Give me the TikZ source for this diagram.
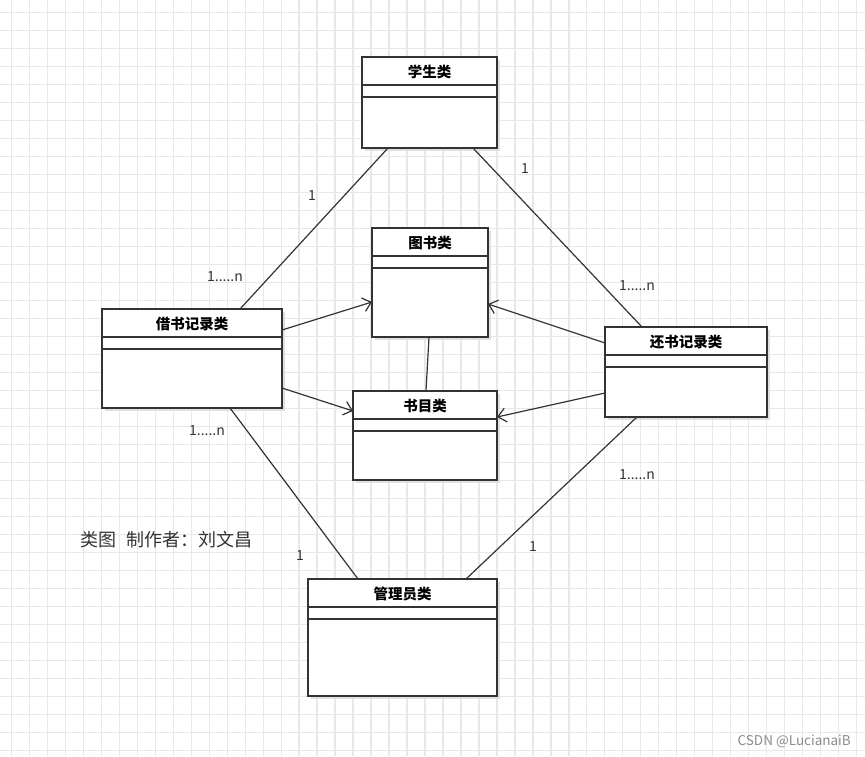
\documentclass[tikz,border=0pt]{standalone}
\usepackage{fontspec}
\setmainfont{Noto Sans CJK SC}
\usetikzlibrary{shadows,arrows.meta,calc}
\definecolor{gridc}{RGB}{232,232,232}
\definecolor{ink}{RGB}{51,51,51}
\tikzset{
  cls/.style={draw=ink, line width=1.3pt, fill=white, inner sep=0pt, outer sep=0pt, anchor=north west,
    drop shadow={shadow xshift=3pt, shadow yshift=-3pt, fill=black!12, opacity=1}},
  ttl/.style={font=\bfseries\fontsize{14.5}{16}\selectfont, text=black, inner sep=0pt},
  sepline/.style={draw=ink, line width=1.3pt},
  assoc/.style={draw=ink, line width=1.2pt},
  nav/.style={assoc, -{Straight Barb[length=8pt,width=14pt]}},
  mult/.style={font=\fontsize{14}{16}\selectfont, text=ink, inner sep=0pt},
  gridline/.style={draw=gridc, line width=1.5pt},
}
\newcommand\umlclass[6]{%
  \node[cls, minimum width=#4pt, minimum height=#5pt] (#1) at (#2,#3) {};
  \draw[sepline] ([yshift=-28pt]#1.north west) -- ([yshift=-28pt]#1.north east);
  \draw[sepline] ([yshift=-40pt]#1.north west) -- ([yshift=-40pt]#1.north east);
  \node[ttl] (#1-t) at ([yshift=-15pt]#1.north) {#6};}
\begin{document}
\begin{tikzpicture}[x=1pt,y=-1pt]
\useasboundingbox (0,0) rectangle (865,756);
\fill[white] (0,0) rectangle (865,756);
\foreach \i in {0,...,48} \draw[gridline] (11.7+17.97*\i,0) -- ++(0,756);
\foreach \j in {0,...,42} \draw[gridline] (0,12.7+18*\j) -- ++(865,0);

\umlclass{stu}{362}{57}{135}{91}{学生类}
\umlclass{tu}{372}{228}{116}{109}{图书类}
\umlclass{mu}{353}{391}{144}{89}{书目类}
\umlclass{jie}{102}{309}{180}{99}{借书记录类}
\umlclass{hai}{605}{327}{162}{90}{还书记录类}
\umlclass{guan}{308}{579}{189}{117}{管理员类}

\draw[assoc] ([xshift=26pt]stu.south west) -- ([xshift=138pt]jie.north west);
\draw[assoc] ([xshift=111pt]stu.south west) -- ([xshift=37pt]hai.north west);
\draw[nav] ([yshift=-21pt]jie.north east) -- ([yshift=-74pt]tu.north west);
\draw[nav] ([yshift=-79pt]jie.north east) -- ([yshift=-20pt]mu.north west);
\draw[nav] ([yshift=-16pt]hai.north west) -- ([yshift=-76pt]tu.north east);
\draw[nav] ([yshift=-66pt]hai.north west) -- ([yshift=-26pt]mu.north east);
\draw[assoc] ([xshift=57pt]tu.south west) -- ([xshift=73pt]mu.north west);
\draw[assoc] ([xshift=128pt]jie.south west) -- ([xshift=50pt]guan.north west);
\draw[assoc] ([xshift=32pt]hai.south west) -- ([xshift=158pt]guan.north west);

\node[mult] (m1) at (312,196) {1};
\node[mult] (m2) at (225,277) {1.....n};
\node[mult] (m3) at (525,169) {1};
\node[mult] (m4) at (637,286) {1.....n};
\node[mult] (m5) at (207,431) {1.....n};
\node[mult] (m6) at (300,555) {1};
\node[mult] (m7) at (637,475) {1.....n};
\node[mult] (m8) at (533,546) {1};

\node[font=\fontsize{18}{20}\selectfont, text=ink, anchor=west, inner sep=0pt] (cap) at (80,540) {类图\hspace{0.55em}制作者：刘文昌};
\node[font=\fontsize{13.5}{15}\selectfont, text=black!45, anchor=east, inner sep=0pt] (wm) at (851,741) {CSDN @LucianaiB};
\end{tikzpicture}
\end{document}
